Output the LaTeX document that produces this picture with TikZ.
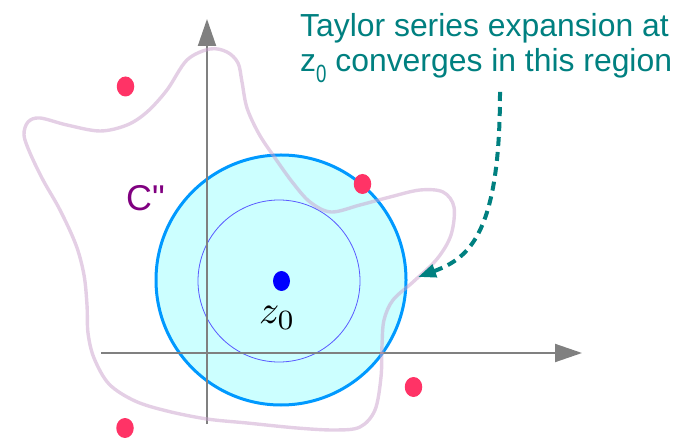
\documentclass[tikz,border=0pt]{standalone}
\usepackage{fontspec}
\setmainfont{Liberation Sans}
\newfontfamily\rawsans{Liberation Sans}
\usetikzlibrary{arrows.meta,shapes.geometric}
\definecolor{tealtxt}{HTML}{008080}
\definecolor{cpurple}{HTML}{800080}
\definecolor{diskfill}{HTML}{CCFFFF}
\definecolor{diskline}{HTML}{0099FF}
\definecolor{innerline}{HTML}{5A5AFF}
\definecolor{dotred}{HTML}{FF3366}
\definecolor{axisgray}{HTML}{808080}
\definecolor{curvecol}{HTML}{C9A0CC}
\tikzset{
  reddot/.style={ellipse, fill=dotred, minimum width=17.5bp, minimum height=20bp, inner sep=0pt},
  axisline/.style={draw=axisgray, line width=2bp, -{Triangle[length=27bp,width=18bp,fill=axisgray]}},
  contour/.style={draw=curvecol, draw opacity=0.5, line width=3.4bp},
  notearrow/.style={draw=tealtxt, line width=4bp, dash pattern=on 9bp off 6bp, -{Triangle[length=18bp,width=13bp,fill=tealtxt,sep=0pt]}},
  label/.style={inner sep=0pt, anchor=base west}
}
\begin{document}
\begin{tikzpicture}[x=1bp,y=-1bp]
\useasboundingbox (0,0) rectangle (694,438);
% disk of convergence
\node[circle, draw=diskline, fill=diskfill, line width=3bp, minimum size=250bp, inner sep=0pt] (disk) at (281,280) {};
\node[circle, draw=innerline, line width=0.8bp, minimum size=162bp, inner sep=0pt] (inner) at (279,281) {};
% axes
\coordinate (xs) at (101,353);
\coordinate (xe) at (582,353);
\coordinate (ys) at (207,424);
\coordinate (ye) at (207,19);
\draw[axisline] (xs) -- (xe);
\draw[axisline] (ys) -- (ye);
% contour C''
\draw[contour] plot[smooth cycle, tension=0.55] coordinates {
 (210,49) (227,52) (238,63) (242,82) (247,108) (259,134) (275,158) (293,183) (310,202) (331,212)
 (360,205) (390,197) (420,190) (443,192) (454,207) (451,235) (437,259) (413,282) (393,300)
 (384,320) (382,345) (381,377) (375,410) (360,427) (335,430) (297,428) (247,423) (207,419)
 (167,411) (135,401) (109,384) (94,358) (88,333) (87,305) (84,275) (76,245) (60,210) (43,180)
 (30,153) (24,135) (28,122) (40,118) (67,125) (100,131) (127,125) (147,112) (167,90) (187,60)
};
% centre
\node[ellipse, fill=blue, minimum width=17bp, minimum height=20bp, inner sep=0pt] (z0) at (281.5,281) {};
\node[label] (z0lab) at (259,324) {\scalebox{4}{$z_0$}};
% singularities
\node[reddot] (s1) at (125.5,86.5) {};
\node[reddot] (s2) at (362.5,184) {};
\node[reddot] (s3) at (413.5,387) {};
\node[reddot] (s4) at (125,428) {};
% curve label
\node[label, text=cpurple] (clab) at (126,211) {\rawsans\fontsize{36}{40}\selectfont C"};
% annotation
\node[label, text=tealtxt] (note1) at (300,37) {\fontsize{32}{36}\selectfont Taylor series expansion at};
\node[label, text=tealtxt] (note2) at (300,72) {\fontsize{32}{36}\selectfont z\raisebox{-11bp}{\scalebox{0.75}[1]{\fontsize{25}{25}\selectfont 0}} converges in this region};
\coordinate (astart) at (500,92);
\coordinate (aend) at (418,277);
\draw[notearrow] (astart) .. controls (500,232) and (470,258) .. (aend);
\end{tikzpicture}
\end{document}
